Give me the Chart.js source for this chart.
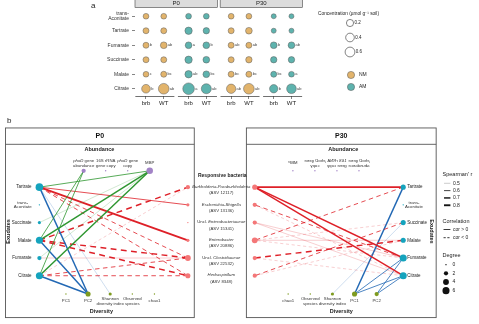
<!DOCTYPE html>
<html>
<head>
<meta charset="utf-8">
<script src="https://cdn.jsdelivr.net/npm/chart.js@4.4.1/dist/chart.umd.min.js"></script>
<style>
  body { margin: 0; background: #fff; width: 479px; height: 324px; overflow: hidden; position: relative; }
  canvas { position: absolute; left: 0; }
  #chartA { top: 0; }
  #chartB { top: 110px; }
</style>
</head>
<body>
<canvas id="chartA" width="479" height="110"></canvas>
<canvas id="chartB" width="479" height="214"></canvas>
<script>
const FONT = "'Liberation Sans', Arial, sans-serif";
Chart.defaults.font.family = FONT;
Chart.defaults.animation = false;

// ---------- panel a: exudate concentrations (umol g-1 soil) ----------
const acids = ['trans-Aconitate', 'Tartrate', 'Fumarate', 'Succinate', 'Malate', 'Citrate'];
const genotypes = ['brb', 'WT', 'brb', 'WT', 'brb', 'WT', 'brb', 'WT'];
const columnFungus = ['NM', 'NM', 'AM', 'AM', 'NM', 'NM', 'AM', 'AM'];
const facets = ['P0', 'P30'];

const concP0NMbrb = [0.07, 0.09, 0.09, 0.09, 0.07, 0.40];
const concP0NMwt = [0.07, 0.09, 0.15, 0.09, 0.09, 0.78];
const concP0AMbrb = [0.07, 0.22, 0.15, 0.22, 0.22, 1.00];
const concP0AMwt = [0.07, 0.12, 0.15, 0.15, 0.15, 0.64];
const concP30NMbrb = [0.07, 0.09, 0.09, 0.09, 0.09, 0.51];
const concP30NMwt = [0.07, 0.15, 0.09, 0.12, 0.09, 0.78];
const concP30AMbrb = [0.03, 0.03, 0.15, 0.12, 0.09, 0.35];
const concP30AMwt = [0.03, 0.03, 0.15, 0.12, 0.07, 0.57];

const letP0NMbrb = ['', '', 'b', '', 'c', 'b'];
const letP0NMwt = ['', '', 'ab', '', 'bc', 'ab'];
const letP0AMbrb = ['', '', 'a', '', 'ab', 'a'];
const letP0AMwt = ['', '', 'b', '', 'bc', 'ab'];
const letP30NMbrb = ['', '', 'ab', '', 'bc', 'ab'];
const letP30NMwt = ['', '', 'ab', '', 'bc', 'ab'];
const letP30AMbrb = ['', '', 'b', '', 'bc', 'b'];
const letP30AMwt = ['', '', 'ab', '', 'a', 'ab'];

const concLegend = [0.2, 0.4, 0.6];

const concentrations = [concP0NMbrb, concP0NMwt, concP0AMbrb, concP0AMwt, concP30NMbrb, concP30NMwt, concP30AMbrb, concP30AMwt];
const letters = [letP0NMbrb, letP0NMwt, letP0AMbrb, letP0AMwt, letP30NMbrb, letP30NMwt, letP30AMbrb, letP30AMwt];

// ---------- panel b: Spearman correlation networks ----------
const exudates = ['Tartrate', 'trans-Aconitate', 'Succinate', 'Malate', 'Fumarate', 'Citrate'];
const bacteria = ['Burkholderia-Paraburkholderia', 'Escherichia-Shigella', 'Uncl. Enterobacteriaceae', 'Enterobacter', 'Uncl. Clostridiaceae', 'Herbaspirillum'];
const bacteriaAsv = ['(ASV 12117)', '(ASV 13136)', '(ASV 15341)', '(ASV 20886)', '(ASV 22532)', '(ASV 8348)'];
const abundance = ['phoD gene abundance', '16S rRNA gene copy', 'phoD gene copy', 'MBP'];
const diversityP0 = ['PC1', 'PC2', 'Shannon diversity index', 'Observed species', 'chao1'];
const diversityP30 = ['PC2', 'PC1', 'Shannon diversity index', 'Observed species', 'chao1'];

// [exudate, partner, Spearman's r]
const edgesP0 = [
  ['Tartrate', 'MBP', 0.6],
  ['Succinate', 'MBP', 0.5],
  ['Malate', 'MBP', 0.7],
  ['Malate', 'phoD gene abundance', 0.6],
  ['Fumarate', 'MBP', 0.5],
  ['Citrate', 'MBP', 0.7],
  ['Citrate', 'phoD gene abundance', 0.6],
  ['Tartrate', 'PC2', 0.7],
  ['Tartrate', 'Shannon diversity index', 0.5],
  ['Malate', 'PC2', 0.7],
  ['Citrate', 'PC2', 0.7],
  ['Tartrate', 'Escherichia-Shigella', 0.6],
  ['Tartrate', 'Enterobacter', 0.8],
  ['Tartrate', 'Uncl. Clostridiaceae', -0.6],
  ['Tartrate', 'Herbaspirillum', -0.6],
  ['Malate', 'Burkholderia-Paraburkholderia', -0.7],
  ['Malate', 'Uncl. Clostridiaceae', -0.7],
  ['Malate', 'Herbaspirillum', -0.7],
  ['Fumarate', 'Uncl. Clostridiaceae', 0.5],
  ['Citrate', 'Burkholderia-Paraburkholderia', -0.5],
  ['Citrate', 'Uncl. Clostridiaceae', -0.6],
  ['Citrate', 'Herbaspirillum', -0.6]
];
const edgesP30 = [
  ['Tartrate', 'Burkholderia-Paraburkholderia', 0.8],
  ['Fumarate', 'Burkholderia-Paraburkholderia', 0.7],
  ['Citrate', 'Burkholderia-Paraburkholderia', 0.7],
  ['Fumarate', 'Escherichia-Shigella', -0.6],
  ['Citrate', 'Escherichia-Shigella', -0.5],
  ['Fumarate', 'Uncl. Enterobacteriaceae', 0.5],
  ['Citrate', 'Uncl. Enterobacteriaceae', 0.5],
  ['Malate', 'Enterobacter', 0.5],
  ['Tartrate', 'Enterobacter', -0.6],
  ['Succinate', 'Enterobacter', -0.5],
  ['Fumarate', 'Enterobacter', -0.5],
  ['Malate', 'Uncl. Clostridiaceae', -0.7],
  ['Citrate', 'Uncl. Clostridiaceae', -0.5],
  ['Succinate', 'Herbaspirillum', -0.6],
  ['Malate', 'Herbaspirillum', -0.5],
  ['Tartrate', 'PC1', 0.7],
  ['Succinate', 'Shannon diversity index', 0.5],
  ['Fumarate', 'PC1', 0.6],
  ['Citrate', 'PC1', 0.6],
  ['Fumarate', 'PC2', 0.6],
  ['Citrate', 'PC2', 0.6]
];

const rhoLegend = [0.5, 0.6, 0.7, 0.8];
const degreeLegend = [0, 2, 4, 6];

// ---------- styles and layout ----------
const fungusColor = { NM: '#e2b46c', AM: '#5eb3ae' };
const nodeColor = { exudate: '#15a3bd', abundance: '#a283c6', diversity: '#7e9b1f', bacteria: '#f47778' };
const edgeRgb = { abundance: '46,150,48', bacteria: '222,32,40', diversity: '34,104,180' };
const colPos = [0, 1, 2.4, 3.4, 4.8, 5.8, 7.2, 8.2];

const net = { rowTop: 186, rowGap: 18.4, abundY: 169, divY: 297, exuX: 36, bacX: 187, axis: 442,
  abundX: 81, abundGap: 22.4, divX: 63, divGap: 22.5 };

const sizeFor = c => 1.8 + 4 * Math.sqrt(c);
const degreeSize = d => Math.sqrt(0.5 + 2 * d);
const widthFor = r => 0.55 + (Math.abs(r) - 0.5) * 4.5;
const alphaFor = r => Math.min(1, 0.4 + (Math.abs(r) - 0.5) * 4);
const dashFor = r => r < 0 ? [widthFor(r) * 3 + 1.5, widthFor(r) * 2 + 1.5] : [];

function kindOf(name) {
  if (exudates.includes(name)) return 'exudate';
  if (bacteria.includes(name)) return 'bacteria';
  if (abundance.includes(name)) return 'abundance';
  return 'diversity';
}

function nodePos(panel, name) {
  const kind = kindOf(name);
  let x, y;
  if (kind === 'exudate') { x = net.exuX; y = net.rowTop + net.rowGap * exudates.indexOf(name); }
  else if (kind === 'bacteria') { x = net.bacX; y = net.rowTop + net.rowGap * bacteria.indexOf(name); }
  else if (kind === 'abundance') { x = net.abundX + net.abundGap * abundance.indexOf(name); y = net.abundY; }
  else {
    const order = panel === 0 ? diversityP0 : diversityP30;
    x = net.divX + net.divGap * order.indexOf(name); y = net.divY;
  }
  return { x: panel === 0 ? x : net.axis - x, y };
}

function rich(ctx, parts, x, y, size, align, color) {
  const fonts = parts.map(p => (p[1] ? 'italic ' : '') + size + 'px ' + FONT);
  const widths = parts.map((p, i) => { ctx.font = fonts[i]; return ctx.measureText(p[0]).width; });
  const total = widths.reduce((a, b) => a + b, 0);
  let cx = align === 'center' ? x - total / 2 : align === 'right' ? x - total : x;
  ctx.textAlign = 'left';
  ctx.textBaseline = 'middle';
  ctx.fillStyle = color || '#222';
  parts.forEach((p, i) => { ctx.font = fonts[i]; ctx.fillText(p[0], cx, y); cx += widths[i]; });
}

function label(ctx, t, x, y, font, align, color) {
  ctx.font = font + ' ' + FONT;
  ctx.textAlign = align || 'left';
  ctx.textBaseline = 'middle';
  ctx.fillStyle = color || '#222';
  ctx.fillText(t, x, y);
}

// ---------- panel a chart ----------
const panelAExtras = {
  id: 'panelAExtras',
  afterDraw(chart) {
    const ctx = chart.ctx, xs = chart.scales.x;
    ctx.save();
    // facet strips
    facets.forEach((f, k) => {
      const x0 = xs.getPixelForValue(colPos[k * 4] - 0.62);
      const x1 = xs.getPixelForValue(colPos[k * 4 + 3] + 0.62);
      ctx.fillStyle = '#dcdcdc';
      ctx.strokeStyle = '#444';
      ctx.lineWidth = 0.6;
      ctx.fillRect(x0, -2, x1 - x0, 9.5);
      ctx.strokeRect(x0, -2, x1 - x0, 9.5);
      label(ctx, f, (x0 + x1) / 2, 3.5, '6px', 'center', '#222');
    });
    // axis line under each genotype pair
    ctx.strokeStyle = '#333';
    ctx.lineWidth = 0.7;
    for (let k = 0; k < 4; k++) {
      const y = chart.chartArea.bottom + 0.5;
      ctx.beginPath();
      ctx.moveTo(xs.getPixelForValue(colPos[2 * k] - 0.6), y);
      ctx.lineTo(xs.getPixelForValue(colPos[2 * k + 1] + 0.6), y);
      ctx.stroke();
    }
    // significance letters
    chart.data.datasets.forEach((ds, k) => {
      chart.getDatasetMeta(k).data.forEach((el, i) => {
        if (letters[k][i]) label(ctx, letters[k][i], el.x + ds.data[i].r + 0.8, el.y, '4px', 'left', '#444');
      });
    });
    // legends
    label(ctx, 'Concentration (\u00b5mol g\u207b\u00b9 soil)', 318, 14, '4.8px', 'left', '#222');
    concLegend.forEach((c, i) => {
      const r = sizeFor(c), y = 23 + i * 14.5;
      ctx.beginPath();
      ctx.arc(350, y, r, 0, Math.PI * 2);
      ctx.fillStyle = '#fff'; ctx.fill();
      ctx.strokeStyle = '#333'; ctx.lineWidth = 0.6; ctx.stroke();
      label(ctx, String(c), 350 + r + 0.8, y, '4.5px', 'left', '#222');
    });
    ['NM', 'AM'].forEach((f, i) => {
      const y = 75 + i * 12;
      ctx.beginPath();
      ctx.arc(351, y, 3.6, 0, Math.PI * 2);
      ctx.fillStyle = fungusColor[f]; ctx.fill();
      ctx.strokeStyle = '#555'; ctx.lineWidth = 0.5; ctx.stroke();
      label(ctx, f, 359, y, '5px', 'left', '#222');
    });
    label(ctx, 'a', 91, 6, '8px', 'left', '#222');
    ctx.restore();
  }
};

new Chart(document.getElementById('chartA'), {
  type: 'bubble',
  data: {
    datasets: concentrations.map((vals, k) => ({
      data: vals.map((c, i) => ({ x: colPos[k], y: acids[i], r: sizeFor(c) })),
      backgroundColor: fungusColor[columnFungus[k]],
      borderColor: '#5a5a5a',
      borderWidth: 0.5,
      clip: false
    }))
  },
  options: {
    responsive: false,
    events: [],
    layout: { padding: { top: 9, right: 176, left: 0, bottom: 0 } },
    plugins: { legend: { display: false }, tooltip: { enabled: false } },
    scales: {
      x: {
        type: 'linear', min: -0.62, max: 8.85,
        afterBuildTicks: s => { s.ticks = colPos.map(v => ({ value: v })); },
        afterFit: s => { s.height = 14; },
        ticks: { callback: (v, i) => genotypes[i], font: { size: 6 }, color: '#222', padding: 1, maxRotation: 0, autoSkip: false },
        grid: { drawOnChartArea: false, tickLength: 3, color: '#333', lineWidth: 0.6 },
        border: { display: false }
      },
      y: {
        type: 'category', labels: acids, offset: true,
        afterFit: s => { s.width = 135; },
        ticks: {
          callback: function (v) { const s = this.getLabelForValue(v); return s === 'trans-Aconitate' ? ['trans-', 'Aconitate'] : s; },
          font: { size: 5, lineHeight: 1 }, color: '#333', padding: 3
        },
        grid: { drawOnChartArea: false, tickLength: 3, color: '#333', lineWidth: 0.6 },
        border: { display: false }
      }
    }
  },
  plugins: [panelAExtras]
});

// ---------- panel b chart ----------
const abundLabel = {
  'phoD gene abundance': [[['phoD', true], [' gene', false]], [['abundance', false]]],
  '16S rRNA gene copy': [[['16S rRNA', false]], [['gene copy', false]]],
  'phoD gene copy': [[['phoD', true], [' gene', false]], [['copy', false]]],
  'MBP': [[['MBP', false]]]
};
const divLabel = {
  'PC1': ['PC1'], 'PC2': ['PC2'], 'Shannon diversity index': ['Shannon', 'diversity index'],
  'Observed species': ['Observed', 'species'], 'chao1': ['chao1']
};
const bacteriaLabel = [
  [['Burkholderia-Paraburkholderia', true]],
  [['Escherichia-Shigella', true]],
  [['Uncl. ', false], ['Enterobacteriaceae', true]],
  [['Enterobacter', true]],
  [['Uncl. ', false], ['Clostridiaceae', true]],
  [['Herbaspirillum', true]]
];

function degrees(edges) {
  const d = {};
  edges.forEach(([a, b]) => { d[a] = (d[a] || 0) + 1; d[b] = (d[b] || 0) + 1; });
  return d;
}

const allNodes = [...exudates, ...bacteria, ...abundance, ...diversityP0];
const nodeSets = [];
const edgeSets = [];
[edgesP0, edgesP30].forEach((edges, panel) => {
  const deg = degrees(edges);
  ['exudate', 'bacteria', 'abundance', 'diversity'].forEach(kind => {
    nodeSets.push({
      type: 'bubble',
      data: allNodes.filter(n => kindOf(n) === kind).map(n => ({ ...nodePos(panel, n), r: degreeSize(deg[n] || 0) })),
      backgroundColor: nodeColor[kind],
      borderWidth: 0,
      order: 0,
      clip: false
    });
  });
  edges.forEach(([a, b, r]) => {
    edgeSets.push({
      type: 'line',
      data: [nodePos(panel, a), nodePos(panel, b)],
      borderColor: 'rgba(' + edgeRgb[kindOf(b)] + ',' + alphaFor(r) + ')',
      borderWidth: widthFor(r),
      borderDash: dashFor(r),
      pointRadius: 0,
      tension: 0,
      order: 1,
      clip: false
    });
  });
});

const panelBExtras = {
  id: 'panelBExtras',
  beforeDatasetsDraw(chart) {
    const ctx = chart.ctx, X = v => chart.scales.x.getPixelForValue(v), Y = v => chart.scales.y.getPixelForValue(v);
    ctx.save();
    ctx.strokeStyle = '#555';
    ctx.lineWidth = 0.9;
    [[1.5, 193.5], [246.5, 439.5]].forEach(([x0, x1], k) => {
      ctx.strokeRect(X(x0), Y(124.5), X(x1) - X(x0), Y(321.5) - Y(124.5));
      ctx.beginPath();
      ctx.moveTo(X(x0), Y(141.5)); ctx.lineTo(X(x1), Y(141.5));
      ctx.stroke();
      label(ctx, facets[k], X((x0 + x1) / 2), Y(133), 'bold 7px', 'center', '#111');
    });
    ctx.restore();
  },
  afterDatasetsDraw(chart) {
    const ctx = chart.ctx, X = v => chart.scales.x.getPixelForValue(v), Y = v => chart.scales.y.getPixelForValue(v);
    ctx.save();
    label(ctx, 'b', X(3), Y(117), '8px', 'left', '#222');
    [0, 1].forEach(panel => {
      const mirror = v => panel === 0 ? v : net.axis - v;
      label(ctx, 'Abundance', X(mirror(97)), Y(147), 'bold 5.5px', 'center', '#222');
      label(ctx, 'Diversity', X(mirror(99)), Y(315), 'bold 5.5px', 'center', '#222');
      // exudate titles, rotated
      ctx.save();
      ctx.translate(X(panel === 0 ? 4.5 : 435), Y(232));
      ctx.rotate(panel === 0 ? -Math.PI / 2 : Math.PI / 2);
      label(ctx, 'Exudates', 0, 0, 'bold 5.5px', 'center', '#222');
      ctx.restore();
      // exudate labels
      exudates.forEach(n => {
        const p = nodePos(panel, n);
        if (n === 'trans-Aconitate') {
          const cx = panel === 0 ? 19 : 417;
          label(ctx, 'trans-', X(cx), Y(p.y - 2.5), '4.3px', 'center', '#333');
          label(ctx, 'Aconitate', X(cx), Y(p.y + 2.5), '4.3px', 'center', '#333');
        } else if (panel === 0) {
          label(ctx, n, X(28), Y(p.y), '4.5px', 'right', '#222');
        } else {
          label(ctx, n, X(410), Y(p.y), '4.5px', 'left', '#222');
        }
      });
      // abundance labels (mirrored on the P30 side)
      abundance.forEach(n => {
        const p = nodePos(panel, n);
        const lines = abundLabel[n];
        lines.forEach((parts, li) => {
          const y = lines.length === 1 ? 161 : 158.5 + li * 5;
          ctx.save();
          ctx.translate(X(p.x), Y(y));
          if (panel === 1) ctx.scale(-1, 1);
          rich(ctx, parts, 0, 0, 4.3, 'center', '#333');
          ctx.restore();
        });
      });
      // diversity labels
      (panel === 0 ? diversityP0 : diversityP30).forEach(n => {
        const p = nodePos(panel, n);
        const lines = divLabel[n];
        lines.forEach((t, li) => {
          const y = lines.length === 1 ? 304 : 302 + li * 5;
          label(ctx, t, X(p.x), Y(y), '4.3px', 'center', '#333');
        });
      });
    });
    // bacteria labels between the panels
    label(ctx, 'Responsive bacteria', X(222), Y(174), 'bold 5px', 'center', '#222');
    bacteria.forEach((n, i) => {
      const y = net.rowTop + net.rowGap * i;
      rich(ctx, bacteriaLabel[i], X(221), Y(y - 0.5), 4.3, 'center', '#333');
      label(ctx, bacteriaAsv[i], X(221), Y(y + 6), '4.3px', 'center', '#333');
    });
    // legends
    label(ctx, "Spearman' r", X(446), Y(173), '5.5px', 'left', '#222');
    rhoLegend.forEach((r, i) => {
      const y = 182 + i * 7.6;
      ctx.strokeStyle = 'rgba(20,20,20,' + alphaFor(r) + ')';
      ctx.lineWidth = widthFor(r);
      ctx.beginPath(); ctx.moveTo(X(447.5), Y(y)); ctx.lineTo(X(454), Y(y)); ctx.stroke();
      label(ctx, r.toFixed(1), X(456.5), Y(y), '5px', 'left', '#222');
    });
    label(ctx, 'Correlation', X(446), Y(222), '5.5px', 'left', '#222');
    [0.6, -0.6].forEach((r, i) => {
      const y = 230 + i * 8.5;
      ctx.strokeStyle = '#222';
      ctx.lineWidth = 0.9;
      ctx.setLineDash(r < 0 ? [2.2, 1.6] : []);
      ctx.beginPath(); ctx.moveTo(X(447), Y(y)); ctx.lineTo(X(454), Y(y)); ctx.stroke();
      ctx.setLineDash([]);
      label(ctx, r > 0 ? 'cor > 0' : 'cor < 0', X(456.5), Y(y), '5px', 'left', '#222');
    });
    label(ctx, 'Degree', X(446), Y(257), '5.5px', 'left', '#222');
    degreeLegend.forEach((d, i) => {
      const y = 266.5 + i * 9;
      ctx.beginPath(); ctx.arc(X(449.5), Y(y), degreeSize(d), 0, Math.PI * 2);
      ctx.fillStyle = '#111'; ctx.fill();
      label(ctx, String(d), X(456), Y(y), '5px', 'left', '#222');
    });
    ctx.restore();
  }
};

new Chart(document.getElementById('chartB'), {
  type: 'scatter',
  data: { datasets: [...nodeSets, ...edgeSets] },
  options: {
    responsive: false,
    events: [],
    layout: { padding: 0 },
    plugins: { legend: { display: false }, tooltip: { enabled: false } },
    scales: {
      x: { type: 'linear', min: 0, max: 479, display: false },
      y: { type: 'linear', min: 110, max: 324, reverse: true, display: false }
    }
  },
  plugins: [panelBExtras]
});
</script>
</body>
</html>
